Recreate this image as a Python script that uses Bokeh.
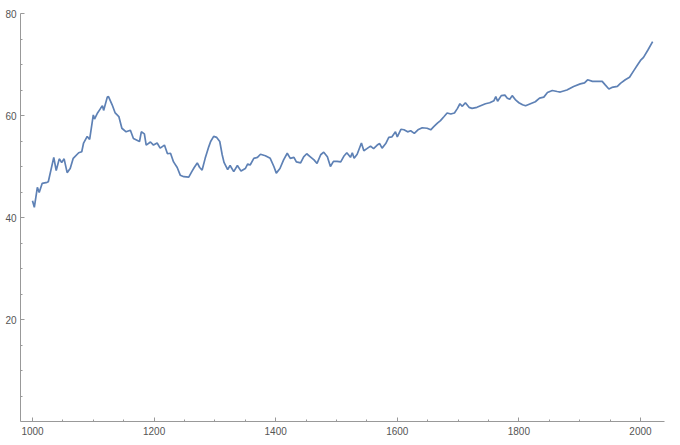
from bokeh.plotting import figure
from bokeh.models import Range1d, FixedTicker
from bokeh.embed import file_html
from bokeh.resources import INLINE

years = [1000, 1003, 1008, 1011, 1016, 1024, 1026, 1035, 1039, 1044, 1048, 1052, 1057, 1062, 1067,
         1076, 1081, 1084, 1090, 1094, 1100, 1102, 1107, 1112, 1115, 1117, 1123, 1125, 1131, 1136,
         1142, 1147, 1154, 1161, 1166, 1176, 1179, 1184, 1187, 1194, 1199, 1205, 1210, 1217, 1222,
         1227, 1232, 1238, 1243, 1249, 1257, 1262, 1266, 1271, 1275, 1279, 1284, 1290, 1293, 1298,
         1303, 1308, 1312, 1315, 1321, 1325, 1331, 1337, 1343, 1350, 1354, 1358, 1364, 1370, 1375,
         1383, 1391, 1397, 1401, 1407, 1413, 1419, 1424, 1430, 1434, 1441, 1446, 1451, 1457, 1463,
         1468, 1474, 1479, 1485, 1490, 1495, 1501, 1507, 1512, 1517, 1523, 1526, 1529, 1534, 1541,
         1545, 1550, 1556, 1561, 1567, 1571, 1575, 1581, 1586, 1591, 1597, 1600, 1606, 1611, 1617,
         1622, 1628, 1634, 1641, 1649, 1655, 1660, 1666, 1671, 1677, 1682, 1688, 1694, 1699, 1703,
         1707, 1712, 1718, 1723, 1731, 1737, 1745, 1752, 1759, 1762, 1765, 1771, 1777, 1781, 1785,
         1789, 1795, 1800, 1806, 1811, 1819, 1827, 1834, 1841, 1847, 1855, 1863, 1868, 1879, 1890,
         1901, 1908, 1913, 1921, 1929, 1937, 1942, 1948, 1953, 1962, 1967, 1975, 1982, 1989, 1995,
         2000, 2005, 2012, 2020]
values = [43.3, 42.0, 45.9, 44.9, 46.7, 46.9, 47.0, 51.8, 49.2, 51.5, 50.8, 51.5, 48.8, 49.6, 51.6,
          52.7, 52.9, 54.6, 55.9, 55.3, 60.1, 59.3, 60.5, 61.4, 61.9, 61.0, 63.6, 63.7, 62.1, 60.5,
          59.8, 57.5, 56.8, 57.1, 55.5, 54.9, 56.8, 56.4, 54.2, 54.8, 54.2, 54.6, 53.6, 54.2, 52.5,
          52.6, 50.9, 49.8, 48.3, 48.0, 47.9, 49.0, 49.8, 50.7, 49.8, 49.3, 51.6, 53.9, 54.9, 55.9,
          55.7, 54.9, 52.3, 50.8, 49.4, 50.2, 49.0, 50.2, 49.1, 49.6, 50.5, 50.3, 51.6, 51.8, 52.4,
          52.1, 51.6, 50.0, 48.7, 49.6, 51.3, 52.6, 51.6, 51.8, 50.9, 50.7, 51.9, 52.5, 51.9, 51.3,
          50.6, 52.3, 52.8, 51.9, 50.0, 51.0, 51.0, 50.9, 52.0, 52.7, 51.8, 52.7, 51.6, 52.4, 54.6,
          53.1, 53.5, 54.0, 53.5, 54.2, 54.5, 53.6, 54.5, 55.7, 55.8, 56.8, 55.8, 57.3, 57.2, 56.8,
          57.0, 56.5, 57.2, 57.6, 57.5, 57.2, 57.8, 58.5, 59.0, 59.8, 60.5, 60.3, 60.5, 61.4, 62.3,
          61.8, 62.5, 61.6, 61.4, 61.6, 61.9, 62.3, 62.5, 62.9, 63.7, 62.8, 63.9, 64.0, 63.4, 63.2,
          63.9, 63.0, 62.5, 62.1, 61.9, 62.3, 62.7, 63.4, 63.6, 64.5, 64.9, 64.7, 64.6, 65.0, 65.7,
          66.2, 66.4, 67.0, 66.7, 66.7, 66.7, 66.0, 65.2, 65.5, 65.7, 66.3, 67.0, 67.5, 68.8, 69.9,
          70.8, 71.4, 72.8, 74.5]

x_major = [1000, 1200, 1400, 1600, 1800, 2000]
x_minor = [1050, 1100, 1150, 1250, 1300, 1350, 1450, 1500, 1550, 1650, 1700, 1750,
           1850, 1900, 1950]
y_major = [20, 40, 60, 80]
y_minor = [5, 10, 15, 25, 30, 35, 45, 50, 55, 65, 70, 75]

p = figure(frame_width=644, frame_height=408, output_backend="svg", toolbar_location=None,
           x_range=Range1d(980.26, 2039.5), y_range=Range1d(0, 80),
           min_border_left=20, min_border_right=8, min_border_top=13, min_border_bottom=24)
p.outline_line_color = None
p.xgrid.grid_line_color = None
p.ygrid.grid_line_color = None
p.background_fill_color = "white"
p.border_fill_color = "white"

p.line(years, values, line_color="#5E81B5", line_width=1.7)

p.xaxis.ticker = FixedTicker(ticks=x_major, minor_ticks=x_minor)
p.yaxis.ticker = FixedTicker(ticks=y_major, minor_ticks=y_minor)

for ax in (p.xaxis[0], p.yaxis[0]):
    ax.axis_line_color = "#999999"
    ax.axis_line_width = 1
    ax.major_tick_line_color = "#999999"
    ax.minor_tick_line_color = "#999999"
    ax.major_tick_in = 4
    ax.major_tick_out = 0
    ax.minor_tick_in = 2
    ax.minor_tick_out = 0
    ax.major_label_text_font = "Liberation Sans"
    ax.major_label_text_font_size = "10px"
    ax.major_label_text_color = "#555555"
p.xaxis.major_label_standoff = 5
p.yaxis.major_label_standoff = 4

open("out.html", "w").write(file_html(p, INLINE))
